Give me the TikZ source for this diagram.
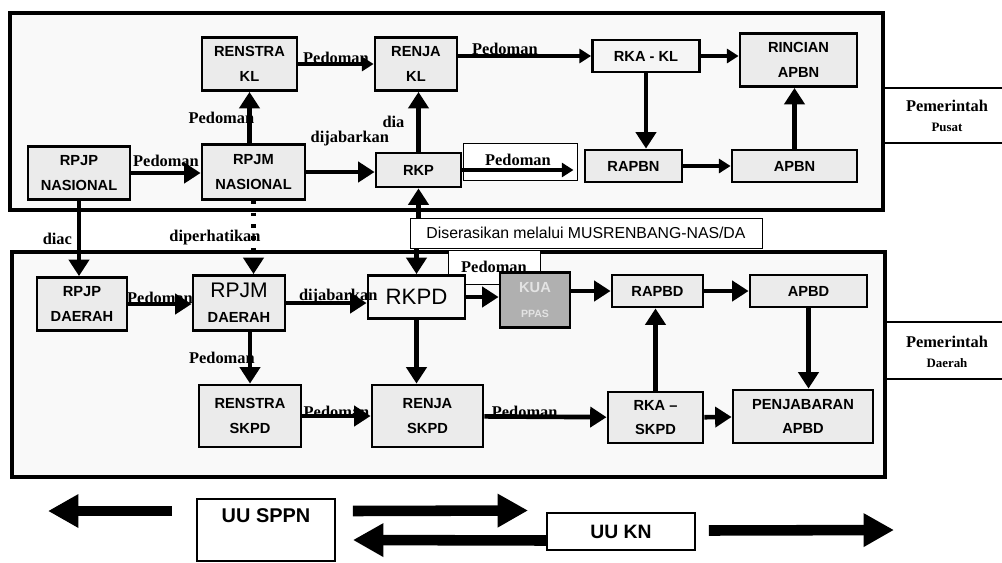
\documentclass[tikz,border=0pt]{standalone}
\usepackage{fontspec}
\setmainfont{Liberation Serif}
\setsansfont{Liberation Sans}
\usepackage{tikz}
\usetikzlibrary{arrows.meta,positioning,calc}
\tikzset{
  frame/.style={draw=black, line width=3.4pt, fill=gray!5},
  docbox/.style={rectangle, draw=black, line width=2.4pt, fill=gray!16,
                 align=center, inner sep=2pt,
                 font=\sffamily\bfseries\fontsize{12.5}{21}\selectfont},
  docboxdark/.style={docbox, fill=gray!62, text=gray!22},
  notebox/.style={rectangle, draw=black, line width=0.8pt, fill=white, inner sep=2pt},
  lawbox/.style={rectangle, draw=black, line width=1.6pt, fill=white, align=center,
                 font=\sffamily\bfseries\fontsize{17}{24}\selectfont},
  flow/.style={-{Triangle[length=14pt,width=17pt]}, line width=4pt},
  thinflow/.style={-{Triangle[length=10pt,width=12pt]}, line width=2.6pt},
  dotflow/.style={flow, dash pattern=on 3pt off 7pt},
  fatarr/.style={-{Triangle[length=26pt,width=27pt]}, line width=9pt},
  lbl/.style={font=\rmfamily\bfseries\fontsize{14}{16}\selectfont, inner sep=1pt},
  sidelbl/.style={font=\rmfamily\bfseries\fontsize{14}{17}\selectfont, align=center},
  sideline/.style={line width=2.4pt},
}

\begin{document}
\begin{tikzpicture}[x=0.3mm,y=-0.3mm]
  \useasboundingbox (0,0) rectangle (1002,562);

  % the two government levels
  \draw[frame] (10,13) rectangle (883,210);
  \draw[frame] (12,252) rectangle (885,477);
  \draw[sideline] (883,88) -- (1002,88) (883,143) -- (1002,143);
  \draw[sideline] (885,322) -- (1002,322) (885,379) -- (1002,379);
  \node[sidelbl] (pusat) at (947,116) {Pemerintah\\{\fontsize{11}{12}\selectfont Pusat}};
  \node[sidelbl] (daerah) at (947,352) {Pemerintah\\{\fontsize{11}{12}\selectfont Daerah}};

  % national level
  \node[docbox, minimum width=28.5mm, minimum height=15.9mm] (rensKL) at (249.5,64) {RENSTRA\\KL};
  \node[docbox, minimum width=24.6mm, minimum height=15.9mm] (renjaKL) at (416,64) {RENJA\\KL};
  \node[docbox, minimum width=32.1mm, minimum height=9.6mm, fill=gray!8] (rkaKL) at (646,56) {RKA - KL};
  \node[docbox, minimum width=35.1mm, minimum height=15.9mm] (rincian) at (798.5,60) {RINCIAN\\APBN};
  \node[docbox, minimum width=30.6mm, minimum height=15.9mm] (rpjpN) at (79,173) {RPJP\\NASIONAL};
  \node[docbox, minimum width=30.9mm, minimum height=16.5mm] (rpjmN) at (253.5,172) {RPJM\\NASIONAL};
  \node[docbox, minimum width=25.5mm, minimum height=10.2mm] (rkp) at (418.5,170) {RKP};
  \node[notebox, minimum width=34.2mm, minimum height=11.1mm] (pedN) at (520,161.5) {};
  \node[docbox, minimum width=29.1mm, minimum height=9.6mm] (rapbn) at (633.5,166) {RAPBN};
  \node[docbox, minimum width=37.5mm, minimum height=9.6mm] (apbn) at (794.5,166) {APBN};

  % harmonisation box between the levels
  \node[notebox, minimum width=105.6mm, minimum height=9mm,
        font=\sffamily\fontsize{13.5}{15}\selectfont] (diser) at (586,233)
       {Diserasikan melalui MUSRENBANG-NAS/DA};
  \node[notebox, minimum width=27.6mm, minimum height=10.2mm, lbl] (pedD) at (494,267) {Pedoman};

  % regional level
  \node[docbox, minimum width=27mm, minimum height=15.9mm] (rpjpD) at (82,304) {RPJP\\DAERAH};
  \node[docbox, minimum width=27.6mm, minimum height=16.5mm] (rpjmD) at (239,303)
       {{\mdseries\fontsize{18}{18}\selectfont RPJM}\\DAERAH};
  \node[docbox, minimum width=29.1mm, minimum height=12.9mm, fill=gray!6,
        font=\sffamily\fontsize{19}{20}\selectfont] (rkpd) at (416.5,297) {RKPD};
  \node[docboxdark, minimum width=21mm, minimum height=16.5mm] (kua) at (535,300)
       {KUA\\{\fontsize{9}{10}\selectfont PPAS}};
  \node[docbox, minimum width=27.3mm, minimum height=9.6mm] (rapbd) at (657.5,291) {RAPBD};
  \node[docbox, minimum width=35.1mm, minimum height=9.6mm] (apbd) at (808.5,291) {APBD};
  \node[docbox, minimum width=30.6mm, minimum height=18.6mm] (rensSKPD) at (250,416) {RENSTRA\\SKPD};
  \node[docbox, minimum width=33.3mm, minimum height=18.6mm] (renjaSKPD) at (427.5,416) {RENJA\\SKPD};
  \node[docbox, minimum width=28.5mm, minimum height=15.3mm] (rkaSKPD) at (655.5,417.5) {RKA --\\SKPD};
  \node[docbox, minimum width=42mm, minimum height=15.9mm] (penjab) at (803,416.5) {PENJABARAN\\APBD};

  % laws
  \node[lawbox, minimum width=41.4mm, minimum height=18.6mm] (sppn) at (266,530) {UU SPPN\\\mbox{}};
  \node[lawbox, minimum width=44.4mm, minimum height=11.1mm,
        font=\sffamily\bfseries\fontsize{16.5}{18}\selectfont] (kn) at (621,531.5) {UU KN};
  \coordinate (leftTip) at (48,511);
  \coordinate (rightTip) at (894,530);

  % national flows
  \draw[flow] (rpjpN.east) -- node[lbl, above=2pt] {Pedoman} (rpjpN.east -| rpjmN.west);
  \draw[flow] (rpjmN.east) -- node[lbl, above=19pt, xshift=8pt] {dijabarkan} (rpjmN.east -| rkp.west);
  \draw[flow] (rensKL.south |- rpjmN.north) -- node[lbl, left=-7pt] {Pedoman} (rensKL.south);
  \draw[thinflow] (rensKL) -- node[lbl, above=-2pt] {Pedoman} (renjaKL);
  \draw[flow] (rkp.north) -- node[lbl, left=9pt] {dia} (rkp.north |- renjaKL.south);
  \draw[thinflow] (renjaKL.east |- rkaKL) -- node[lbl, above=-1pt, pos=0.35] {Pedoman} (rkaKL);
  \draw[thinflow] (rkaKL) -- (rkaKL -| rincian.west);
  \draw[flow] (rkaKL.south) -- (rkaKL.south |- rapbn.north);
  \draw[thinflow] (rapbn) -- (apbn);
  \draw[flow] (apbn.north) -- (apbn.north |- rincian.south);
  \draw[thinflow] (rkp.east) -- node[lbl, above=1pt] {Pedoman} ($(rkp.east -| pedN.east)+(-4,0)$);

  % between the levels
  \draw[flow] (rpjpN.south) -- node[lbl, left=3pt] {diac} (rpjpN.south |- rpjpD.north);
  \draw[dotflow] (rpjmN.south) -- node[lbl, left=-9pt] {diperhatikan} (rpjmN.south |- rpjmD.north);
  \draw[flow] (rkp.south |- diser.north) -- (rkp.south);
  \draw[flow] (rkpd.north |- diser.south) -- (rkpd.north);

  % regional flows
  \draw[flow] (rpjpD.east) -- node[lbl, above=-3pt] {Pedoman} (rpjpD.east -| rpjmD.west);
  \draw[flow] (rpjmD.east) -- node[lbl, above=-4pt, xshift=10pt] {dijabarkan} (rpjmD.east -| rkpd.west);
  \draw[flow] (rkpd) -- (rkpd -| kua.west);
  \draw[flow] (kua.east |- rapbd) -- (rapbd);
  \draw[flow] (rapbd) -- (apbd);
  \draw[flow] (rensSKPD.north |- rpjmD.south) -- node[lbl, left=-7pt] {Pedoman} (rensSKPD.north);
  \draw[flow] (rensSKPD) -- node[lbl, above=-4pt] {Pedoman} (renjaSKPD);
  \draw[flow] (rkpd.south) -- (rkpd.south |- renjaSKPD.north);
  \draw[flow] (renjaSKPD) -- node[lbl, above=-4pt, pos=0.33] {Pedoman} (rkaSKPD);
  \draw[flow] (rkaSKPD.north) -- (rkaSKPD.north |- rapbd.south);
  \draw[flow] (apbd.south) -- (apbd.south |- penjab.north);
  \draw[flow] (rkaSKPD) -- (penjab);

  % law arrows
  \draw[fatarr] ($(sppn.west)+(-24,-19)$) -- (leftTip);
  \draw[fatarr] ($(sppn.east)+(17,-19)$) -- ($(kn.west)+(-18,-21)$);
  \draw[fatarr] ($(kn.west)+(0,9)$) -- ($(sppn.east)+(17,10)$);
  \draw[fatarr] ($(kn.east)+(13,-1)$) -- (rightTip);
\end{tikzpicture}
\end{document}
